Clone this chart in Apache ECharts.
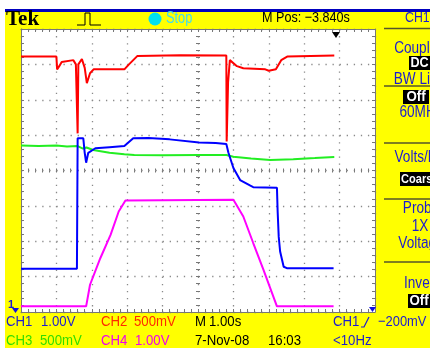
<!DOCTYPE html>
<html>
<head>
<meta charset="utf-8">
<script src="https://cdn.jsdelivr.net/npm/echarts@6/dist/echarts.min.js"></script>
<style>
html, body { margin: 0; padding: 0; background: #fff; }
#scope { width: 430px; height: 348px; }
</style>
</head>
<body>
<div id="scope"></div>
<script>
// screen time in seconds (M 1.00s/div), levels in divisions from the centre line
const ch1T = [0, 1.58, 1.60, 1.76, 1.80, 1.84, 1.90, 2.10, 2.50, 2.92, 3.17, 3.60, 4.20, 5.03, 5.50, 5.80, 5.86, 6.00, 6.19, 6.48, 6.56, 7.23, 7.25, 7.28, 7.32, 7.42, 7.51, 8.83];
const ch1Y = [-2.78, -2.78, 0.91, 0.91, 0.50, 0.22, 0.50, 0.63, 0.66, 0.69, 0.91, 0.92, 0.88, 0.79, 0.78, 0.75, 0.50, 0.07, -0.27, -0.43, -0.47, -0.49, -1.16, -1.87, -2.29, -2.72, -2.76, -2.76];

const ch2T = [0, 1.00, 1.02, 1.08, 1.15, 1.48, 1.55, 1.59, 1.60, 1.62, 1.72, 1.80, 1.86, 1.95, 2.05, 2.92, 3.05, 3.29, 4.50, 5.80, 5.81, 5.84, 5.85, 5.90, 5.95, 6.10, 6.28, 6.90, 7.00, 7.20, 7.35, 7.52, 8.85];
const ch2Y = [3.22, 3.22, 2.86, 2.95, 3.07, 3.12, 3.00, 3.00, 1.05, 3.00, 3.15, 2.90, 2.47, 2.75, 2.86, 2.86, 3.00, 3.24, 3.26, 3.25, 0.82, 0.82, 2.50, 3.12, 3.08, 2.95, 2.89, 2.86, 2.82, 2.86, 3.12, 3.22, 3.25];

const ch3T = [0, 0.5, 1.0, 1.3, 1.6, 1.75, 1.85, 2.04, 2.5, 2.92, 3.2, 4.0, 5.03, 5.80, 6.00, 6.5, 7.04, 7.69, 8.3, 8.85];
const ch3Y = [0.71, 0.69, 0.71, 0.68, 0.69, 0.62, 0.65, 0.58, 0.50, 0.46, 0.44, 0.43, 0.44, 0.44, 0.39, 0.34, 0.30, 0.32, 0.35, 0.38];

const ch4T = [0, 1.84, 1.95, 2.24, 2.53, 2.76, 2.95, 6.00, 6.28, 6.56, 6.85, 7.23, 8.83];
const ch4Y = [-3.84, -3.84, -3.23, -2.48, -1.82, -1.16, -0.85, -0.83, -1.30, -2.05, -2.81, -3.84, -3.84];

const frameGrey = '#777777';
const txtBlue = '#1c1cd0';

function pairs(t, y) {
  return t.map((v, i) => [v, y[i]]);
}

// frame / centre-cross axes, only ticks and lines
function xFrame(position, offset, len, line, split) {
  return {
    type: 'value', min: 0, max: 10, interval: 1, position: position, offset: offset,
    axisLine: { show: line, onZero: false, lineStyle: { color: frameGrey, width: 1 } },
    axisTick: { show: true, inside: true, length: len, lineStyle: { color: frameGrey } },
    minorTick: { show: true, splitNumber: 5, length: len, lineStyle: { color: frameGrey } },
    axisLabel: { show: false },
    splitLine: { show: split, lineStyle: { color: '#8a8a8a', width: 1.3, type: [1.3, 5.78] } }
  };
}
function yFrame(position, offset, len, line, split) {
  return {
    type: 'value', min: -4, max: 4, interval: 1, position: position, offset: offset,
    axisLine: { show: line, onZero: false, lineStyle: { color: frameGrey, width: 1 } },
    axisTick: { show: true, inside: true, length: len, lineStyle: { color: frameGrey } },
    minorTick: { show: true, splitNumber: 5, length: len, lineStyle: { color: frameGrey } },
    axisLabel: { show: false },
    splitLine: { show: split, lineStyle: { color: '#8a8a8a', width: 1.3, type: [1.3, 5.78] } }
  };
}

function label(x, y, text, fill, size, align, scale, bold) {
  return {
    type: 'text', x: x, y: y, scaleX: scale, z: 100,
    style: {
      text: text, x: 0, y: 0, fill: fill,
      font: (bold ? 'bold ' : '') + size + 'px "Liberation Sans", Arial, sans-serif',
      align: align, verticalAlign: 'middle', textAlign: align, textVerticalAlign: 'middle'
    }
  };
}
function box(x, y, w, h) {
  return { type: 'rect', shape: { x: x, y: y, width: w, height: h }, style: { fill: '#000' }, z: 90 };
}
function sep(y) {
  return { type: 'line', shape: { x1: 384, y1: y, x2: 430, y2: y }, style: { stroke: '#55552a', lineWidth: 1.5 }, z: 90 };
}

const chart = echarts.init(document.getElementById('scope'));
chart.setOption({
  animation: false,
  backgroundColor: '#ffff00',
  grid: {
    left: 21, top: 29, width: 354, height: 283,
    show: true, backgroundColor: '#ffffff', borderWidth: 0,
    outerBoundsMode: 'none'
  },
  xAxis: [
    xFrame('bottom', 0, 3, true, true),
    xFrame('top', 0, 3, true, false),
    xFrame('bottom', -141.5, 2, false, false),
    xFrame('top', -141.5, 2, false, false)
  ],
  yAxis: [
    yFrame('left', 0, 3, true, true),
    yFrame('right', 0, 3, true, false),
    yFrame('left', -177, 2, false, false),
    yFrame('right', -177, 2, false, false)
  ],
  series: [
    { name: 'CH3', type: 'line', data: pairs(ch3T, ch3Y), showSymbol: false, lineStyle: { color: '#22ee22', width: 2 } },
    { name: 'CH2', type: 'line', data: pairs(ch2T, ch2Y), showSymbol: false, lineStyle: { color: '#ff0000', width: 2 } },
    { name: 'CH4', type: 'line', data: pairs(ch4T, ch4Y), showSymbol: false, lineStyle: { color: '#ff00ff', width: 2 } },
    { name: 'CH1', type: 'line', data: pairs(ch1T, ch1Y), showSymbol: false, lineStyle: { color: '#0000ff', width: 2 } }
  ],
  graphic: [
    // white margins and top bar
    { type: 'rect', shape: { x: 0, y: 0, width: 430, height: 9 }, style: { fill: '#fff' }, z: 80 },
    { type: 'rect', shape: { x: 0, y: 0, width: 5, height: 348 }, style: { fill: '#fff' }, z: 80 },
    { type: 'rect', shape: { x: 5, y: 9, width: 425, height: 3 }, style: { fill: '#0000c0' }, z: 80 },

    // header
    {
      type: 'text', x: 6, y: 20, z: 100,
      style: { text: 'Tek', x: 0, y: 0, fill: '#000', font: 'bold 21px "Liberation Serif", serif', align: 'left', verticalAlign: 'middle', textAlign: 'left', textVerticalAlign: 'middle' }
    },
    {
      type: 'polyline', z: 100,
      shape: { points: [[77, 25], [85, 25], [85, 13], [90, 13], [90, 25], [101, 25]] },
      style: { stroke: '#000', lineWidth: 1, fill: null }
    },
    { type: 'circle', shape: { cx: 155, cy: 19, r: 6.5 }, style: { fill: '#00e0f0' }, z: 100 },
    label(166, 19, 'Stop', '#40dcf0', 16, 'left', 0.8),
    label(262, 18, 'M Pos: \u22123.840s', '#000', 15, 'left', 0.84),
    label(405, 18, 'CH1', txtBlue, 15, 'left', 0.82),

    { type: 'polygon', shape: { points: [[332, 32], [340, 32], [336, 38]] }, style: { fill: '#000' }, z: 100 },

    // right menu
    sep(28.5), sep(86), sep(143), sep(199), sep(262),
    label(421, 49, 'Coupling', txtBlue, 16, 'center', 0.85),
    box(409, 56, 21, 14), label(419.5, 63, 'DC', '#fff', 14, 'center', 0.9, true),
    label(421, 80, 'BW Limit', txtBlue, 16, 'center', 0.85),
    box(403, 90, 26, 14), label(416, 97, 'Off', '#fff', 14, 'center', 0.95, true),
    label(421, 113, '60MHz', txtBlue, 16, 'center', 0.85),
    label(421, 158, 'Volts/Div', txtBlue, 16, 'center', 0.85),
    box(400, 172, 30, 14), label(401, 179, 'Coarse', '#fff', 13, 'left', 0.85, true),
    label(421, 209, 'Probe', txtBlue, 16, 'center', 0.85),
    label(420, 227, '1X', txtBlue, 16, 'center', 0.85),
    label(421, 244, 'Voltage', txtBlue, 16, 'center', 0.85),
    label(421, 284, 'Invert', txtBlue, 16, 'center', 0.85),
    box(408, 294, 22, 14), label(419, 301, 'Off', '#fff', 14, 'center', 0.95, true),

    // markers at screen edges
    label(8, 305, '1', txtBlue, 11, 'left', 1, true),
    { type: 'polygon', shape: { points: [[12, 308], [19, 308], [15.5, 313]] }, style: { fill: '#1010e0' }, z: 100 },
    { type: 'polygon', shape: { points: [[369, 307], [376, 307], [372.5, 312]] }, style: { fill: '#1010e0' }, z: 100 },

    // footer
    label(6, 322, 'CH1', txtBlue, 15, 'left', 0.88),
    label(41, 322, '1.00V', txtBlue, 15, 'left', 0.88),
    label(101, 322, 'CH2', '#ff2a00', 15, 'left', 0.88),
    label(134, 322, '500mV', '#ff2a00', 15, 'left', 0.88),
    label(195, 322, 'M', '#000', 15, 'left', 0.88),
    label(209, 322, '1.00s', '#000', 15, 'left', 0.88),
    label(333, 322, 'CH1', txtBlue, 15, 'left', 0.88),
    {
      type: 'polyline', z: 100,
      shape: { points: [[361, 327], [364, 327], [369, 317]] },
      style: { stroke: txtBlue, lineWidth: 1.2, fill: null }
    },
    label(378, 322, '\u2212200mV', txtBlue, 15, 'left', 0.86),
    label(6, 341, 'CH3', '#33dd00', 15, 'left', 0.88),
    label(40, 341, '500mV', '#33dd00', 15, 'left', 0.88),
    label(101, 341, 'CH4', '#ee00ee', 15, 'left', 0.88),
    label(135, 341, '1.00V', '#ee00ee', 15, 'left', 0.88),
    label(195, 341, '7-Nov-08', '#000', 15, 'left', 0.88),
    label(268, 341, '16:03', '#000', 15, 'left', 0.88),
    label(333, 341, '<10Hz', txtBlue, 15, 'left', 0.88)
  ]
});
</script>
</body>
</html>
